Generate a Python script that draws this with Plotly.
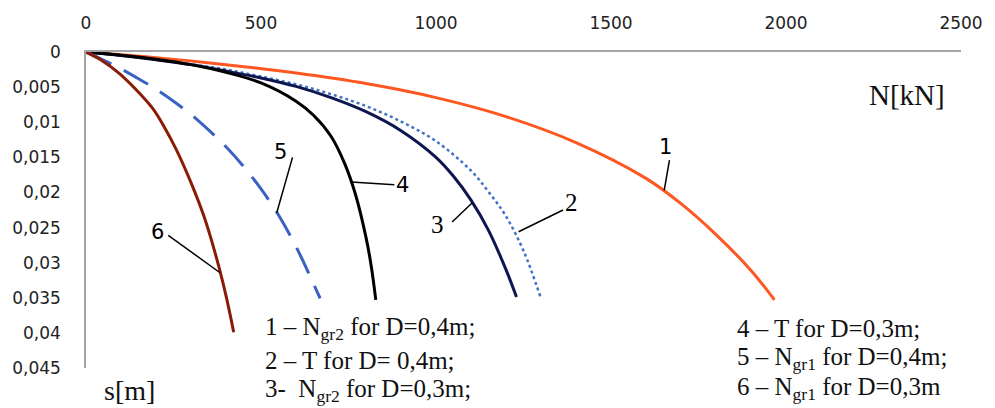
import plotly.graph_objects as go

# ---- data (N in kN, s in m) ----
n1 = [0, 200, 400, 600, 800, 1000, 1200, 1400, 1600, 1700, 1800, 1900, 1967]
s1 = [0, 0.0008, 0.0018, 0.0030, 0.0045, 0.0065, 0.0092, 0.0129, 0.0180, 0.0216, 0.0260, 0.0311, 0.0353]

n2 = [0, 100, 200, 300, 400, 500, 600, 700, 800, 900, 1000, 1100, 1150, 1200, 1250, 1298]
s2 = [0, 0.0005, 0.0011, 0.00175, 0.0025, 0.0035, 0.0046, 0.0060, 0.0077, 0.0099, 0.0127, 0.0169, 0.0199, 0.0234, 0.0283, 0.0348]

n3 = [0, 100, 200, 300, 400, 500, 600, 700, 800, 900, 1000, 1050, 1100, 1150, 1200, 1230]
s3 = [0, 0.0005, 0.0011, 0.0018, 0.0027, 0.0037, 0.0049, 0.0065, 0.0085, 0.0112, 0.0150, 0.0177, 0.0211, 0.0254, 0.0310, 0.0349]

n4 = [0, 100, 200, 300, 400, 500, 600, 650, 700, 740, 770, 800, 815, 828]
s4 = [0, 0.00045, 0.00103, 0.0018, 0.0029, 0.0044, 0.0070, 0.0090, 0.0120, 0.0160, 0.0203, 0.0264, 0.0305, 0.0353]

n5 = [0, 50, 100, 150, 200, 250, 300, 350, 400, 450, 500, 550, 600, 650, 669]
s5 = [0, 0.00115, 0.0024, 0.0038, 0.0053, 0.0070, 0.0089, 0.0111, 0.0135, 0.0163, 0.0195, 0.0232, 0.0277, 0.0330, 0.0351]

n6 = [0, 45, 94, 142, 190, 224, 258, 300, 337, 366, 391, 408, 422]
s6 = [0, 0.0012, 0.0030, 0.0053, 0.0080, 0.0107, 0.0139, 0.0186, 0.0234, 0.0281, 0.0328, 0.0365, 0.0399]

x_ticks = [0, 500, 1000, 1500, 2000, 2500]
x_tick_text = ["0", "500", "1000", "1500", "2000", "2500"]
y_ticks = [0, 0.005, 0.01, 0.015, 0.02, 0.025, 0.03, 0.035, 0.04, 0.045]
y_tick_text = ["0", "0,005", "0,01", "0,015", "0,02", "0,025", "0,03", "0,035", "0,04", "0,045"]

curve_labels = ["1", "2", "3", "4", "5", "6"]
# label text position and leader line (from, to) in data units
label_pos = [(1655, 0.0135), (1386, 0.0214), (1003, 0.0246), (904, 0.0189), (556, 0.0142), (204, 0.0256)]
leaders = [((1667, 0.0154), (1652, 0.0197)),
           ((1363, 0.0225), (1236, 0.0256)),
           ((1046, 0.0242), (1103, 0.0215)),
           ((881, 0.0189), (758, 0.0185)),
           ((590, 0.0150), (545, 0.0229)),
           ((235, 0.0261), (382, 0.0314))]

legend_left = ["1 – N<sub>gr2</sub> for D=0,4m;", "2 – T for D= 0,4m;", "3-\u00a0 N<sub>gr2</sub> for D=0,3m;"]
legend_right = ["4 – T for D=0,3m;", "5 – N<sub>gr1</sub> for D=0,4m;", "6 – N<sub>gr1</sub> for D=0,3m"]

fig = go.Figure()
styles = [
    (n1, s1, dict(color="#FF5722", width=3)),
    (n2, s2, dict(color="#4472C4", width=2.5, dash="dot")),
    (n3, s3, dict(color="#0E1650", width=3)),
    (n4, s4, dict(color="#000000", width=3)),
    (n5, s5, dict(color="#3A62C2", width=3, dash="28px,14px")),
    (n6, s6, dict(color="#8A1C06", width=3)),
]
for xs, ys, ln in styles:
    fig.add_trace(go.Scatter(x=xs, y=ys, mode="lines", line=dict(shape="spline", smoothing=1.0, **ln),
                             showlegend=False, hoverinfo="skip"))

for (a, b) in leaders:
    fig.add_shape(type="line", x0=a[0], y0=a[1], x1=b[0], y1=b[1], xref="x", yref="y",
                  line=dict(color="black", width=1.5))

label_fonts = ["DejaVu Sans", "Liberation Serif", "Liberation Serif", "DejaVu Sans", "DejaVu Sans", "DejaVu Sans"]
label_sizes = [21, 25, 25, 21, 21, 21]
for t, (x, y), f, sz in zip(curve_labels, label_pos, label_fonts, label_sizes):
    fig.add_annotation(x=x, y=y, text=t, showarrow=False, xref="x", yref="y",
                       font=dict(family=f, size=sz, color="black"))

serif = dict(family="Liberation Serif", size=25, color="#111111")
left_y = [0.0690, -0.024, -0.1260]
right_y = [0.0750, -0.024, -0.1200]
for t, y in zip(legend_left, left_y):
    fig.add_annotation(x=507, y=y, text=t, showarrow=False, xanchor="left", xref="x", yref="paper", font=serif)
for t, y in zip(legend_right, right_y):
    fig.add_annotation(x=1854, y=y, text=t, showarrow=False, xanchor="left", xref="x", yref="paper", font=serif)

fig.add_annotation(x=2347, y=0.0061, text="N[kN]", showarrow=False, xref="x", yref="y",
                   font=dict(family="Liberation Serif", size=29, color="#111111"))
fig.add_annotation(x=125, y=-0.128, text="s[m]", showarrow=False, xref="x", yref="paper",
                   font=dict(family="Liberation Serif", size=28, color="#111111"))

axis_font = dict(family="DejaVu Sans", size=17, color="#222222")
fig.update_layout(
    width=995, height=408,
    margin=dict(l=84, r=29, t=52, b=40),
    paper_bgcolor="white", plot_bgcolor="white",
    xaxis=dict(range=[0, 2500], side="top", tickvals=x_ticks, ticktext=x_tick_text,
               showgrid=False, zeroline=False, showline=True, linecolor="#A6A6A6", linewidth=1.5,
               ticks="", tickfont=axis_font, ticklabelstandoff=14),
    yaxis=dict(range=[0.045, 0], tickvals=y_ticks, ticktext=y_tick_text,
               showgrid=False, zeroline=False, showline=True, linecolor="#A6A6A6", linewidth=1.5,
               ticks="", tickfont=axis_font, ticklabelstandoff=20),
)
fig.write_html("out.html")
